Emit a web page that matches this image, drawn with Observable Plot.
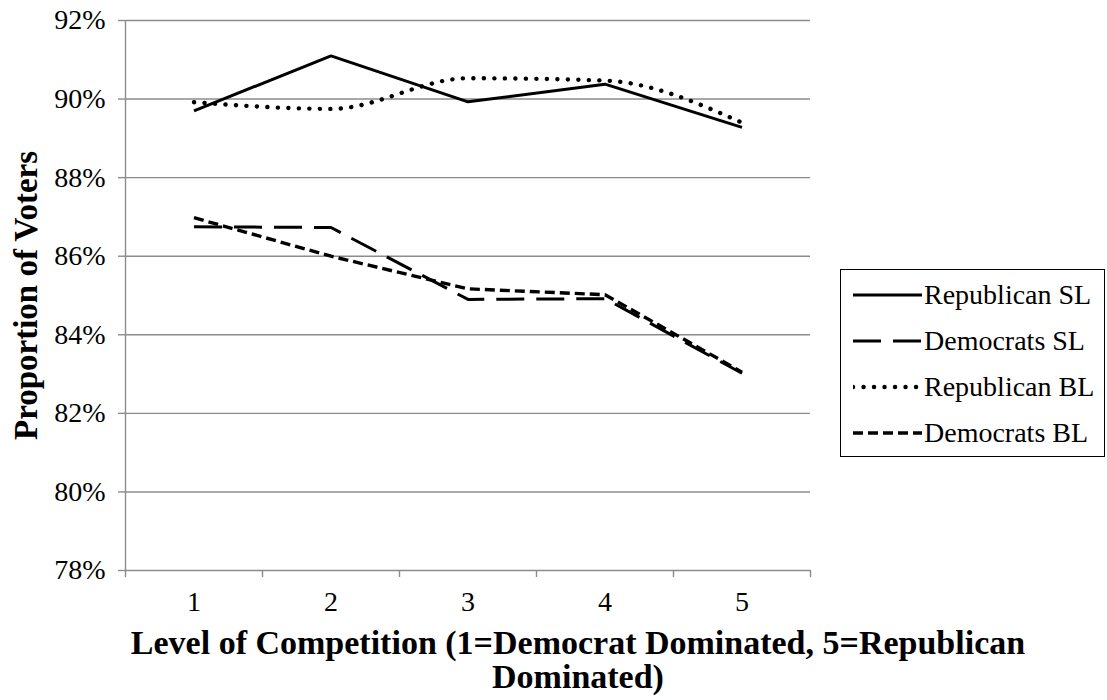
<!DOCTYPE html>
<html>
<head>
<meta charset="utf-8">
<script src="https://cdn.jsdelivr.net/npm/d3@7"></script>
<script src="https://cdn.jsdelivr.net/npm/@observablehq/plot@0.6"></script>
<style>
  body { margin: 0; background: #fff; }
  #wrap { position: relative; width: 1107px; height: 700px; font-family: "Liberation Serif", "DejaVu Serif", serif; }
  #legend { position: absolute; left: 840px; top: 269px; width: 263px; height: 186px;
            border: 1.5px solid #000; box-sizing: content-box; }
  #legend .row { position: absolute; left: 12px; height: 30px; display: flex; align-items: center; }
  #legend .row span { font-size: 28px; color: #000; margin-left: 2px; white-space: nowrap; }
</style>
</head>
<body>
<div id="wrap"></div>
<script>
// Share of voters by level of competition (1 = Democrat dominated, 5 = Republican dominated)
const levels = [1, 2, 3, 4, 5];
const republicanSL = [89.70, 91.10, 89.93, 90.38, 89.28];
const democratsSL  = [86.75, 86.73, 84.90, 84.92, 83.02];
const republicanBL = [89.92, 89.75, 90.53, 90.47, 89.40];
const democratsBL  = [86.98, 86.00, 85.17, 85.02, 83.05];

const seriesNames = ["Republican SL", "Democrats SL", "Republican BL", "Democrats BL"];
const seriesValues = [republicanSL, democratsSL, republicanBL, democratsBL];
const yTicks = [78, 80, 82, 84, 86, 88, 90, 92];
const xTitle = "Level of Competition (1=Democrat Dominated, 5=Republican\nDominated)";
const yTitle = "Proportion of Voters";

// line styling per series
const styles = {
  "Republican SL": {dash: null, cap: "butt", width: 3, curve: "linear"},
  "Democrats SL":  {dash: "28,12", cap: "butt", width: 3, curve: "linear"},
  "Republican BL": {dash: "0.1,10.4", cap: "round", width: 4.4, curve: "monotone-x"},
  "Democrats BL":  {dash: "10,5", cap: "butt", width: 3.4, curve: "linear"}
};

const rows = seriesNames.flatMap((name, i) =>
  levels.map((lv, j) => ({series: name, level: lv, value: seriesValues[i][j]})));

const gray = "#8c8c8c";
const boundaries = d3.range(levels.length + 1).map(i => levels[0] - 0.5 + i);

const lineMarks = seriesNames.map(name => {
  const s = styles[name];
  return Plot.line(rows.filter(d => d.series === name), {
    x: "level", y: "value", stroke: "#000", strokeWidth: s.width,
    strokeDasharray: s.dash ?? undefined, strokeLinecap: s.cap, strokeLinejoin: "miter",
    curve: s.curve
  });
});

const chart = Plot.plot({
  width: 1107,
  height: 700,
  marginLeft: 125,
  marginRight: 297,
  marginTop: 20,
  marginBottom: 130,
  style: {fontFamily: '"Liberation Serif", "DejaVu Serif", serif', fontSize: "28px", color: "#000", background: "#fff"},
  x: {domain: [boundaries[0], boundaries[boundaries.length - 1]]},
  y: {domain: [78, 92]},
  marks: [
    Plot.gridY(yTicks, {stroke: gray, strokeOpacity: 1, strokeWidth: 1.4}),
    Plot.ruleX([boundaries[0]], {stroke: gray, strokeWidth: 1.4}),
    Plot.axisY({ticks: yTicks, tickFormat: d => d + "%", tickSize: 7, tickPadding: 13,
                stroke: gray, strokeWidth: 1.4, label: null, fontSize: 28}),
    Plot.axisX({ticks: boundaries, tickFormat: () => "", tickSize: 7, stroke: gray, strokeWidth: 1.4, label: null}),
    Plot.axisX({ticks: levels, tickFormat: d => String(d), tickSize: 0, tickPadding: 21, label: null, fontSize: 28}),
    ...lineMarks,
    Plot.text([xTitle], {frameAnchor: "bottom", dx: 110, dy: 59, text: d => d, fontSize: 34,
                         fontWeight: "bold", lineHeight: 1.0, lineAnchor: "top", textAnchor: "middle", fill: "#000"}),
    Plot.text([yTitle], {frameAnchor: "left", dx: -99, dy: 0, text: d => d, rotate: -90, fontSize: 33,
                         fontWeight: "bold", textAnchor: "middle", fill: "#000"})
  ]
});

const wrap = document.getElementById("wrap");
wrap.appendChild(chart);

// legend to the right of the plot area
const legend = document.createElement("div");
legend.id = "legend";
wrap.appendChild(legend);
seriesNames.forEach((name, i) => {
  const s = styles[name];
  const row = document.createElement("div");
  row.className = "row";
  row.style.top = (10 + i * 46) + "px";
  const svg = d3.create("svg").attr("width", 69).attr("height", 30);
  svg.append("line").attr("x1", 0).attr("x2", 69).attr("y1", 15).attr("y2", 15)
    .attr("stroke", "#000").attr("stroke-width", s.width)
    .attr("stroke-dasharray", s.dash).attr("stroke-linecap", s.cap);
  row.appendChild(svg.node());
  const label = document.createElement("span");
  label.textContent = name;
  row.appendChild(label);
  legend.appendChild(row);
});
</script>
</body>
</html>
